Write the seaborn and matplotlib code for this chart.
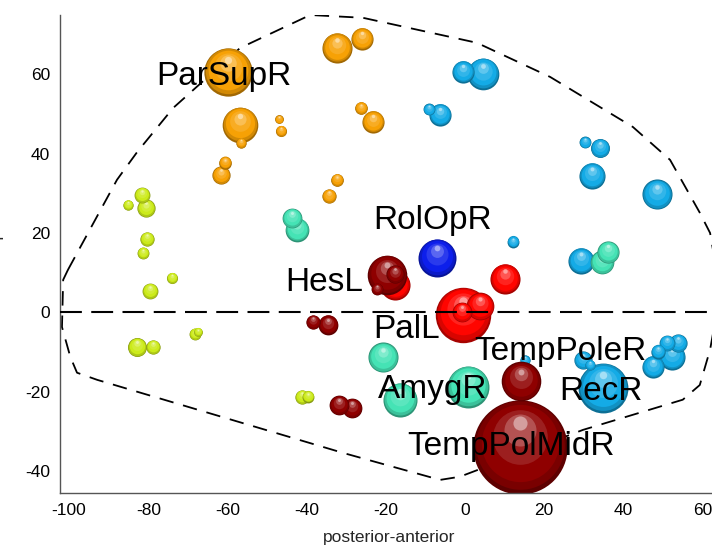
import matplotlib
matplotlib.use("Agg")
import matplotlib.pyplot as plt
import numpy as np
import pandas as pd
import seaborn as sns

# ---------------- data ----------------
lime_x = [-85.0, -81.6, -80.6, -80.3, -81.3, -74.0, -79.5, -82.8, -78.8, -68.2, -67.5, -41.2, -39.6]
lime_y = [27.1, 29.6, 26.3, 18.5, 15.0, 8.7, 5.4, -8.7, -8.7, -5.4, -4.9, -21.3, -21.2]
lime_r = [1.3, 2.0, 2.3, 1.8, 1.5, 1.4, 2.0, 2.4, 1.8, 1.5, 1.1, 1.8, 1.5]

orange_x = [-59.8, -56.8, -56.6, -47.0, -46.5, -60.6, -61.6, -32.3, -34.3, -32.3, -26.0, -26.3, -23.2]
orange_y = [60.6, 47.2, 42.7, 48.7, 45.7, 37.7, 34.6, 33.4, 29.3, 66.6, 68.9, 51.5, 48.0]
orange_r = [6.1, 4.5, 1.3, 1.1, 1.4, 1.6, 2.3, 1.6, 1.8, 3.8, 2.8, 1.6, 2.8]

sky_x = [-0.5, 4.6, -9.0, -6.3, 30.3, 34.1, 32.1, 48.5, 12.1, 29.3, 34.8, 29.8, 31.6, 15.2,
         52.3, 47.5, 48.7, 51.0, 53.8]
sky_y = [60.6, 60.1, 51.2, 49.8, 42.8, 41.4, 34.4, 29.8, 17.8, 13.0, -19.0, -12.0, -13.2, -12.0,
         -11.2, -13.7, -9.9, -7.7, -7.7]
sky_r = [2.8, 4.0, 1.5, 2.8, 1.5, 2.4, 3.3, 3.8, 1.5, 3.3, 6.3, 2.3, 1.3, 1.3,
         3.3, 2.8, 1.8, 2.0, 2.3]

teal_x = [-43.7, -42.4, -20.7, -16.4, 0.8, 36.1, 34.6]
teal_y = [23.8, 20.8, -11.3, -22.0, -18.8, 15.2, 12.6]
teal_r = [2.5, 3.0, 3.8, 4.3, 5.3, 2.8, 3.0]

blue_x = [-7.0]
blue_y = [13.7]
blue_r = [4.8]

red_x = [-0.5, 3.8, -0.8, 10.1, -17.7]
red_y = [-0.6, 1.6, 0.1, 8.4, 6.9]
red_r = [7.0, 3.5, 2.5, 3.8, 3.8]

dred_x = [-19.7, -17.7, -22.2, -38.4, -34.6, -31.8, -28.5, 13.9, 14.1]
dred_y = [9.4, 9.7, 5.9, -2.4, -3.1, -23.3, -24.1, -33.9, -17.4]
dred_r = [5.0, 2.3, 1.5, 1.8, 2.5, 2.5, 2.5, 11.9, 5.0]

labels = ["ParSupR", "RolOpR", "HesL", "PalL", "TempPoleR", "AmygR", "RecR", "TempPolMidR"]
label_x = [-78.1, -23.3, -45.3, -23.3, 2.4, -22.1, 23.9, -14.5]
label_y = [57.3, 21.0, 5.4, -6.4, -12.0, -21.5, -22.0, -35.9]

hull_x = [-100.3, -87.9, -82.8, -73.7, -56.8, -39.1, -25.8, 3.0, 21.5, 42.4, 51.8, 59.3, 61.9,
          64.5, 61.9, 59.3, 55.0, 29.8, -1.3, -6.3, -30.8, -92.9, -98.0, -99.7, -101.8, -101.5, -100.3]
hull_y = [10.7, 33.4, 40.4, 51.5, 66.6, 74.9, 74.2, 67.9, 59.3, 46.7, 38.4, 25.1, 20.0,
          5.0, -9.4, -18.3, -22.0, -29.6, -41.4, -42.2, -35.4, -17.0, -15.2, -11.2, -3.7, 8.2, 10.7]

x_ticks = [-100, -80, -60, -40, -20, 0, 20, 40, 60]
y_ticks = [-40, -20, 0, 20, 40, 60]

groups = {
    "lime": (lime_x, lime_y, lime_r, (0.80, 0.92, 0.10)),
    "orange": (orange_x, orange_y, orange_r, (0.97, 0.63, 0.02)),
    "sky": (sky_x, sky_y, sky_r, (0.08, 0.67, 0.90)),
    "teal": (teal_x, teal_y, teal_r, (0.27, 0.89, 0.71)),
    "blue": (blue_x, blue_y, blue_r, (0.05, 0.12, 0.92)),
    "red": (red_x, red_y, red_r, (1.0, 0.02, 0.0)),
    "darkred": (dred_x, dred_y, dred_r, (0.56, 0.0, 0.0)),
}

rows = []
for g, (xs, ys, rs, col) in groups.items():
    for xx, yy, rr in zip(xs, ys, rs):
        rows.append((g, xx, yy, rr))
df = pd.DataFrame(rows, columns=["group", "x", "y", "r"])

# ---------------- figure ----------------
sns.set_style("white")
plt.rcParams["font.family"] = ["Liberation Sans", "DejaVu Sans"]
plt.rcParams["axes.unicode_minus"] = False

W, H = 712, 545
fig = plt.figure(figsize=(W / 100, H / 100), dpi=100)
ax = fig.add_axes([60 / W, 52 / H, 658 / W, 478 / H])
XL = (-102.3, 63.9)
YL = (-45.5, 74.9)
ax.set_xlim(*XL)
ax.set_ylim(*YL)
ppu = 658 / (XL[1] - XL[0])  # pixels per data unit


def shade(col, m):
    c = np.array(col)
    if m >= 0:
        return tuple(c + (1 - c) * m)
    return tuple(c * (1 + m))


layers = [(1.00, 0.00, -0.35), (0.94, 0.035, -0.15), (0.82, 0.09, 0.0),
          (0.58, 0.20, 0.12), (0.34, 0.36, 0.32), (0.15, 0.50, 0.62)]

# hull (behind spheres)
sns.lineplot(x=hull_x, y=hull_y, sort=False, estimator=None, color="black", lw=1.3,
             dashes=False, ax=ax, zorder=1, legend=False)
ax.lines[-1].set_dashes((8, 5.5))

z = 2.0
for g, (xs, ys, rs, col) in groups.items():
    sub = df[df.group == g].sort_values("r", ascending=False)
    for _, row in sub.iterrows():
        for (sc, dy, m) in layers:
            rp = row.r * sc * ppu * 0.72
            sns.scatterplot(x=[row.x], y=[row.y + dy * row.r], s=(2 * rp) ** 2,
                            color=shade(col, m), linewidth=0, ax=ax, zorder=z, legend=False)
            z += 0.001

# zero line (on top)
ax.axhline(0, color="black", lw=1.5, dashes=(10.5, 4.5), zorder=50)

for t, tx, ty in zip(labels, label_x, label_y):
    ax.text(tx, ty, t, fontsize=24, ha="left", va="baseline", color="black", zorder=60)

ax.set_xticks(x_ticks)
ax.set_yticks(y_ticks)
ax.tick_params(direction="in", length=5, width=0.9, color="#444444", labelsize=12.5,
               labelcolor="black", pad=7)
for s in ["top", "right"]:
    ax.spines[s].set_visible(False)
for s in ["left", "bottom"]:
    ax.spines[s].set_color("#555555")
    ax.spines[s].set_linewidth(1.0)

ax.set_xlabel("posterior-anterior", fontsize=12.5, labelpad=9)
ax.set_ylabel("inferior-superior", fontsize=12.5, labelpad=16)

fig.savefig("out.png", dpi=100)
